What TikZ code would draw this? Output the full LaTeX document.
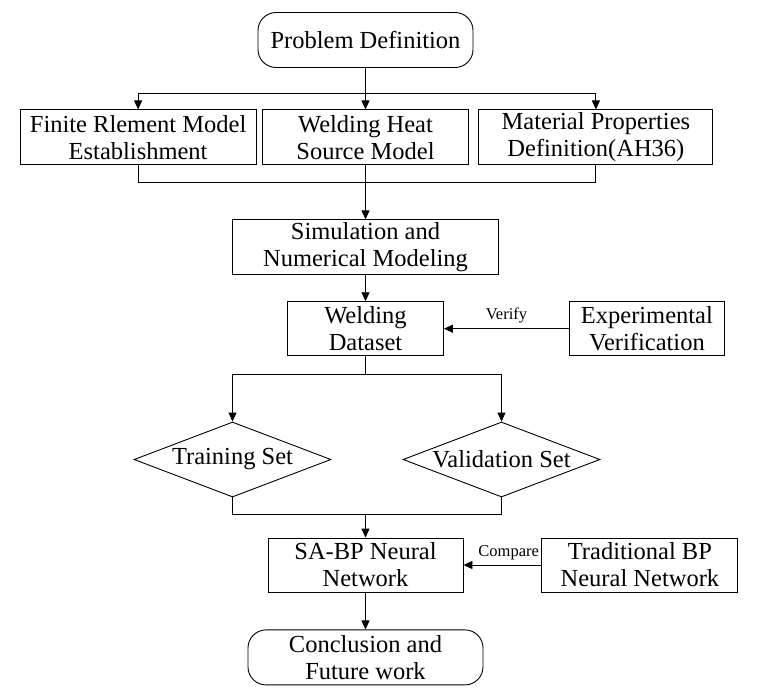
\documentclass[tikz,border=0pt]{standalone}
\usepackage{fontspec}
\setmainfont{Liberation Serif}
\usetikzlibrary{positioning,shapes.geometric,arrows.meta}

\begin{document}
\begin{tikzpicture}[x=1pt, y=1pt, line width=0.9pt, >={Triangle[length=9pt,width=8pt]}]
  \tikzset{
    process/.style={draw, rectangle, minimum height=55pt, inner sep=1pt, align=center, font=\fontsize{24.5}{27}\selectfont},
    terminal/.style={process, rounded corners=18pt},
    decision/.style={draw, diamond, aspect=2.6, minimum width=197pt, minimum height=75pt, inner sep=0pt, font=\fontsize{24.5}{27}\selectfont},
    note/.style={font=\fontsize{16.5}{18}\selectfont, inner sep=2pt}
  }
  \useasboundingbox (0,0) rectangle (776,-697);

  \node[terminal, minimum width=215pt] (problem) at (365.5,-40) {Problem Definition};
  \node[process, minimum width=206pt, below=41.5pt of problem] (heat) {Welding Heat\\Source Model};
  \node[process, minimum width=236pt, left=5.5pt of heat] (fem) {Finite Rlement Model\\Establishment};
  \node[process, minimum width=234pt, right=9.5pt of heat] (material) {Material Properties\\Definition(AH36)};
  \node[process, minimum width=266pt, below=54pt of heat] (simulation) {Simulation and\\Numerical Modeling};
  \node[process, minimum width=156pt, minimum height=54pt, below=26pt of simulation] (dataset) {Welding\\Dataset};
  \node[process, minimum width=155pt, minimum height=54pt, right=125pt of dataset] (experiment) {Experimental\\Verification};

  \node[decision] (training) at (232.5,-459.5) {Training Set};
  \node[decision] (validation) at (501.5,-459.5) {Validation Set};

  \node[process, minimum width=195pt, minimum height=54pt] (sabp) at (365.5,-565) {SA-BP Neural\\Network};
  \node[process, minimum width=196pt, minimum height=54pt, right=78pt of sabp] (traditional) {Traditional BP\\Neural Network};
  \node[terminal, minimum width=235pt, below=37pt of sabp] (conclusion) {Conclusion and\\Future work};

  % top split
  \draw (problem.south) -- ++(0,-25) coordinate (split);
  \draw[->] (split) -- (split |- heat.north);
  \draw[->] (split) -| (fem.north);
  \draw[->] (split) -| (material.north);

  % merge into simulation
  \draw (fem.south) -- ++(0,-17) -| (material.south);
  \draw[->] (heat.south) -- (simulation.north);

  \draw[->] (simulation) -- (dataset);
  \draw[->] (experiment) -- node[note, above=3pt] {Verify} (dataset);

  \draw (dataset.south) -- ++(0,-18) coordinate (fork);
  \draw[->] (fork) -| (training.north);
  \draw[->] (fork) -| (validation.north);

  \draw (training.south) -- ++(0,-17) coordinate (join) -| (validation.south);
  \draw[->] (join -| sabp.north) -- (sabp.north);

  \draw[->] (traditional) -- node[note, above=3pt, pos=0.42] {Compare} (sabp);
  \draw[->] (sabp) -- (conclusion);
\end{tikzpicture}
\end{document}
